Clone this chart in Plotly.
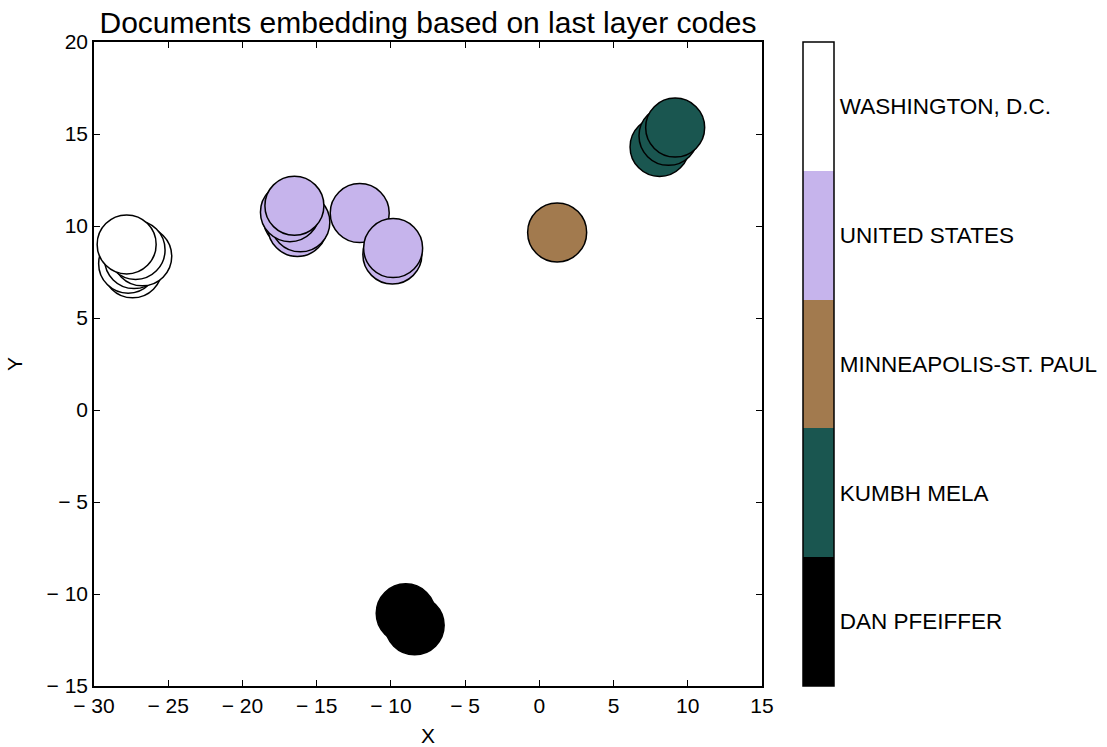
import plotly.graph_objects as go

# Category names (colorbar order, bottom to top)
categories = ["DAN PFEIFFER", "KUMBH MELA", "MINNEAPOLIS-ST. PAUL", "UNITED STATES", "WASHINGTON, D.C."]
cat_colors = ["#000000", "#1a5650", "#a27a4e", "#c6b4ec", "#ffffff"]

# Embedded document coordinates and their category index
xs = [-27.4, -27.7, -27.3, -26.75, -27.2, -27.8,
      -16.6, -16.3, -16.1, -16.8, -16.5,
      -12.1, -9.9, -9.85,
      1.2,
      8.1, 8.7, 9.15,
      -9.0, -8.4]
ys = [7.7, 7.95, 8.2, 8.35, 8.7, 9.0,
      10.4, 9.95, 10.2, 10.75, 11.1,
      10.7, 8.45, 8.8,
      9.65,
      14.3, 14.9, 15.35,
      -11.05, -11.7]
labels = [4, 4, 4, 4, 4, 4,
          3, 3, 3, 3, 3,
          3, 3, 3,
          2,
          1, 1, 1,
          0, 0]

# Axis ticks
x_ticks = [-30, -25, -20, -15, -10, -5, 0, 5, 10, 15]
x_tick_text = ["\u2212 30", "\u2212 25", "\u2212 20", "\u2212 15", "\u2212 10", "\u2212 5", "0", "5", "10", "15"]
y_ticks = [-15, -10, -5, 0, 5, 10, 15, 20]
y_tick_text = ["\u2212 15", "\u2212 10", "\u2212 5", "0", "5", "10", "15", "20"]

n = len(categories)
colorscale = []
for i, c in enumerate(cat_colors):
    colorscale.append([i / n, c])
    colorscale.append([(i + 1) / n, c])

FONT = "Liberation Sans"
PLOT_W = 762 - 94

fig = go.Figure()
fig.add_trace(go.Scatter(
    x=xs, y=ys, mode="markers",
    marker=dict(
        size=59,
        color=labels,
        colorscale=colorscale,
        cmin=-0.5, cmax=n - 0.5,
        opacity=1,
        line=dict(color="black", width=1.5),
        colorbar=dict(
            tickmode="array",
            tickvals=list(range(n)),
            ticktext=categories,
            ticks="",
            x=(803 - 94) / PLOT_W, xanchor="left",
            xpad=0, ypad=0,
            y=0.5, yanchor="middle",
            len=1.0, lenmode="fraction",
            thickness=31,
            outlinecolor="black", outlinewidth=1.5,
            tickfont=dict(family=FONT, size=22.5, color="black"),
        ),
    ),
    showlegend=False,
    hoverinfo="skip",
))

axis_common = dict(
    showgrid=False, zeroline=False, automargin=False,
    showline=True, linecolor="black", linewidth=1.5, mirror="allticks",
    ticks="inside", ticklen=6, tickcolor="black", tickwidth=1,
    tickfont=dict(family=FONT, size=21, color="black"),
    tickmode="array",
)

fig.update_layout(
    width=1107, height=747,
    margin=dict(l=94, r=345, t=42, b=61, autoexpand=False),
    paper_bgcolor="white", plot_bgcolor="white",
    title=dict(
        text="Documents embedding based on last layer codes",
        font=dict(family=FONT, size=30, color="black"),
        x=428 / 1107, xanchor="center",
        y=1 - 22 / 747, yanchor="middle",
    ),
    xaxis=dict(range=[-30, 15], tickvals=x_ticks, ticktext=x_tick_text,
               title=dict(text="X", font=dict(family=FONT, size=21, color="black"), standoff=14),
               **axis_common),
    yaxis=dict(range=[-15, 20], tickvals=y_ticks, ticktext=y_tick_text,
               title=dict(text="Y", font=dict(family=FONT, size=21, color="black"), standoff=18),
               **axis_common),
)

fig.write_html("out.html")
